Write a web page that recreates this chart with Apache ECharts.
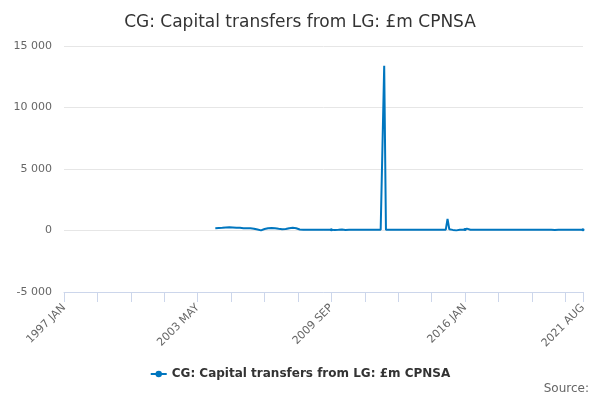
<!DOCTYPE html>
<html>
<head>
<meta charset="utf-8">
<script src="https://cdn.jsdelivr.net/npm/echarts@6.0.0/dist/echarts.min.js"></script>
<style>
  html, body { margin: 0; padding: 0; background: #fff; }
  #chart { width: 600px; height: 400px; }
</style>
</head>
<body>
<div id="chart"></div>
<script>
// CG: Capital transfers from LG, £m, monthly
var monthNames = ['JAN', 'FEB', 'MAR', 'APR', 'MAY', 'JUN', 'JUL', 'AUG', 'SEP', 'OCT', 'NOV', 'DEC'];
var categories = [];
for (var y = 1997; y <= 2021; y++) {
  for (var m = 0; m < 12; m++) {
    if (y === 2021 && m > 7) break;
    categories.push(y + ' ' + monthNames[m]);
  }
}

var firstMonth = '2004 MAR';
// values by year (2004 starts in March, 2021 ends in August)
var v2004 = [190, 200, 210, 200, 220, 230, 240, 250, 260, 250];
var v2005 = [240, 230, 220, 210, 220, 200, 190, 180, 190, 170, 180, 160];
var v2006 = [150, 120, 80, 20, 10, 40, 120, 180, 190, 200, 210, 200];
var v2007 = [180, 160, 140, 120, 110, 100, 120, 150, 190, 210, 220, 200];
var v2008 = [180, 120, 80, 70, 60, 60, 65, 60, 55, 60, 60, 55];
var v2009 = [60, 50, 70, 60, 55, 60, 65, 60, 55, 60, 50, 70];
var v2010 = [55, 60, 75, 60, 50, 60, 65, 55, 60, 60, 55, 65];
var v2011 = [60, 55, 70, 60, 60, 55, 60, 65, 55, 60, 60, 55];
var v2012 = [60, 60, 13400, 70, 60, 55, 60, 65, 60, 55, 60, 60];
var v2013 = [55, 60, 80, 60, 55, 60, 65, 60, 55, 60, 60, 65];
var v2014 = [60, 55, 85, 60, 60, 55, 60, 60, 65, 60, 55, 70];
var v2015 = [60, 70, 950, 100, 60, 50, 60, 10, 40, 60, 55, 60];
var v2016 = [80, 150, 70, 60, 55, 60, 65, 60, 55, 60, 60, 65];
var v2017 = [60, 55, 90, 60, 60, 55, 60, 65, 60, 55, 60, 60];
var v2018 = [55, 60, 85, 60, 55, 60, 65, 60, 55, 60, 60, 65];
var v2019 = [60, 55, 95, 60, 60, 55, 60, 65, 60, 55, 60, 60];
var v2020 = [55, 60, 80, 40, 55, 60, 65, 60, 55, 60, 60, 65];
var v2021 = [60, 55, 90, 60, 60, 55, 60, 55];

var yTicks = [-5000, 0, 5000, 10000, 15000];

var values = [].concat(v2004, v2005, v2006, v2007, v2008, v2009, v2010, v2011,
  v2012, v2013, v2014, v2015, v2016, v2017, v2018, v2019, v2020, v2021);
var startIdx = categories.indexOf(firstMonth);
var seriesData = categories.map(function (c, i) {
  return i < startIdx ? null : values[i - startIdx];
});

var seriesName = 'CG: Capital transfers from LG: £m CPNSA';
var lastIdx = categories.length - 1;

var chart = echarts.init(document.getElementById('chart'));
var option = {
  animation: false,
  textStyle: { fontFamily: 'DejaVu Sans' },
  title: {
    text: seriesName,
    left: 'center',
    top: 9,
    textStyle: { fontSize: 17, fontWeight: 'normal', color: '#333', fontFamily: 'DejaVu Sans' }
  },
  grid: { left: 64, right: 17, top: 46, bottom: 108 },
  legend: {
    bottom: 15,
    left: 'center',
    itemWidth: 16,
    itemHeight: 8,
    textStyle: { fontSize: 12, fontWeight: 'bold', color: '#333' },
    data: [seriesName]
  },
  graphic: [{
    type: 'text',
    right: 11,
    top: 383,
    style: { text: 'Source:', fill: '#666', fontSize: 12, fontFamily: 'DejaVu Sans' }
  }],
  xAxis: {
    type: 'category',
    data: categories,
    boundaryGap: false,
    axisLine: { onZero: false, lineStyle: { color: '#ccd6eb' } },
    axisTick: {
      length: 10,
      lineStyle: { color: '#ccd6eb' },
      interval: function (i) { return i % 19 === 0 || i === lastIdx; }
    },
    axisLabel: {
      rotate: 45,
      color: '#666',
      fontSize: 11,
      margin: 14,
      interval: function (i) { return i % 76 === 0 || i === lastIdx; }
    },
    splitLine: { show: false }
  },
  yAxis: {
    type: 'value',
    min: yTicks[0],
    max: yTicks[yTicks.length - 1],
    interval: 5000,
    axisLine: { show: false },
    axisTick: { show: false },
    axisLabel: {
      color: '#666',
      fontSize: 11,
      margin: 12,
      formatter: function (v) {
        var s = String(Math.abs(v)).replace(/\B(?=(\d{3})+(?!\d))/g, ' ');
        return (v < 0 ? '-' : '') + s;
      }
    },
    splitLine: { lineStyle: { color: '#e6e6e6' } }
  },
  series: [{
    name: seriesName,
    type: 'line',
    data: seriesData,
    symbol: 'circle',
    symbolSize: 3,
    showSymbol: true,
    connectNulls: false,
    itemStyle: { color: '#0076bf' },
    lineStyle: { color: '#0076bf', width: 2 }
  }]
};
chart.setOption(option);
</script>
</body>
</html>
